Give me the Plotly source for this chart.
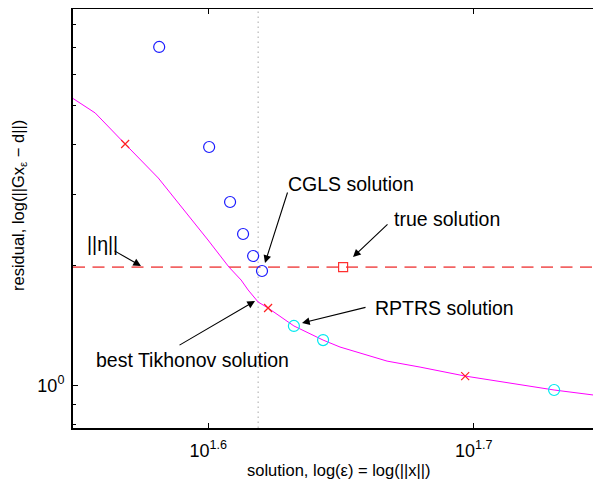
import plotly.graph_objects as go

# ---------------- data ----------------
# Tikhonov L-curve (solution norm, residual norm)
tik_x = [35.38, 36.09, 37.04, 38.12, 39.80, 40.53, 40.96, 41.21, 41.57, 41.93,
         42.88, 43.98, 44.63, 46.49, 47.84, 49.75, 53.74, 56.30]
tik_y = [5.228, 4.797, 4.013, 3.301, 2.311, 1.978, 1.836, 1.734, 1.618, 1.563,
         1.410, 1.300, 1.249, 1.152, 1.113, 1.057, 0.9757, 0.938]
# Tikhonov samples marked with red x
tikx_x = [37.04, 41.93, 49.75]
tikx_y = [4.013, 1.563, 1.057]
# CGLS iterates
cgls_x = [38.15, 39.84, 40.57, 41.03, 41.39, 41.71]
cgls_y = [7.012, 3.945, 2.875, 2.392, 2.108, 1.934]
# RPTRS solutions
rptrs_x = [42.88, 43.98, 53.74]
rptrs_y = [1.410, 1.300, 0.9757]
# true solution
true_x = [44.75]
true_y = [1.978]
# noise level ||eta|| and best Tikhonov epsilon
eta_norm = 1.978
best_eps = 41.57

x_tick_vals = [10 ** 1.6, 10 ** 1.7]
x_tick_text = ["10<sup>1.6</sup>", "10<sup>1.7</sup>"]
y_tick_vals = [1]
y_tick_text = ["10<sup>0</sup>"]
y_minor_vals = [0.8, 0.9, 2, 3, 4, 5, 6, 7, 8]

x_range_log = [1.54902, 1.74797]
y_range_log = [-0.1056, 0.9406]

FONT = "Liberation Sans, Arial, Helvetica, sans-serif"

fig = go.Figure()

# noise level line
fig.add_trace(go.Scatter(x=[10 ** x_range_log[0], 10 ** x_range_log[1]], y=[eta_norm, eta_norm],
                         mode="lines", line=dict(color="#f26464", width=1.8, dash="12px,7.5px"),
                         hoverinfo="skip", showlegend=False))
# best Tikhonov dotted vertical line
fig.add_trace(go.Scatter(x=[best_eps, best_eps], y=[10 ** y_range_log[0], 10 ** y_range_log[1]],
                         mode="lines", line=dict(color="#aaaaaa", width=1, dash="1.5px,3.5px"),
                         hoverinfo="skip", showlegend=False))
# L-curve
fig.add_trace(go.Scatter(x=tik_x, y=tik_y, mode="lines",
                         line=dict(color="#ff00ff", width=1), showlegend=False))
fig.add_trace(go.Scatter(x=tikx_x, y=tikx_y, mode="markers",
                         marker=dict(symbol="x-thin", size=8, line=dict(color="#ff2020", width=1.2)),
                         showlegend=False))
fig.add_trace(go.Scatter(x=cgls_x, y=cgls_y, mode="markers",
                         marker=dict(symbol="circle-open", size=11, color="#1a1aff", line=dict(width=1.2)),
                         showlegend=False))
fig.add_trace(go.Scatter(x=rptrs_x, y=rptrs_y, mode="markers",
                         marker=dict(symbol="circle-open", size=11, color="#00e8f0", line=dict(width=1.2)),
                         showlegend=False))
fig.add_trace(go.Scatter(x=true_x, y=true_y, mode="markers",
                         marker=dict(symbol="square-open", size=9, color="#ff3030", line=dict(width=1.2)),
                         showlegend=False))

# page has an 8px body margin; the figure is sized so it fits the window
OFF = 8
W, H = 593, 475
L, R, T, B = 65, 0, 1, 55
pw, ph = W - L - R, H - T - B


def px(xp):
    return (xp - OFF - L) / pw


def py(yp):
    return (H - B - (yp - OFF)) / ph


annots = []
# text labels
labels = [("CGLS solution", 351, 184), ("true solution", 446.5, 219), ("||η||", 102, 244),
          ("RPTRS solution", 444.5, 308), ("best Tikhonov solution", 192.5, 360)]
for t, xp, yp in labels:
    annots.append(dict(text=t, x=px(xp), y=py(yp), xref="paper", yref="paper",
                       xanchor="center", yanchor="middle", showarrow=False,
                       font=dict(family=FONT, size=19.5, color="black")))
# arrows: head (log data coords), tail offset in pixels
arrows = [(1.62136, 0.3064, 23, -72), (1.65452, 0.3213, 36, -34), (1.57464, 0.2989, -28, -16),
          (1.63531, 0.1566, 65, -16), (1.61760, 0.2115, -77, 45)]
for hx, hy, ax, ay in arrows:
    annots.append(dict(text="", x=hx, y=hy, xref="x", yref="y", ax=ax, ay=ay,
                       axref="pixel", ayref="pixel", showarrow=True, arrowhead=2,
                       arrowsize=1.4, arrowwidth=1.1, arrowcolor="black", standoff=0))
# axis titles
annots.append(dict(text="solution, log(ε) = log(||x||)", x=px(339), y=py(470), xref="paper", yref="paper",
                   xanchor="center", yanchor="middle", showarrow=False,
                   font=dict(family=FONT, size=16.5, color="black")))
annots.append(dict(text="residual, log(||Gx<sub>ε</sub> − d||)", x=px(19), y=py(206), xref="paper", yref="paper",
                   xanchor="center", yanchor="middle", showarrow=False, textangle=-90,
                   font=dict(family=FONT, size=16.5, color="black")))

fig.update_layout(
    width=W, height=H,
    margin=dict(l=L, r=R, t=T, b=B, pad=0),
    paper_bgcolor="white", plot_bgcolor="white",
    font=dict(family=FONT, size=18, color="black"),
    annotations=annots,
    xaxis=dict(type="log", range=x_range_log, showgrid=False, zeroline=False,
               tickmode="array", tickvals=x_tick_vals, ticktext=x_tick_text,
               ticks="inside", ticklen=5, tickwidth=1, tickcolor="black",
               showline=True, linecolor="black", linewidth=2, mirror="ticks",
               ticklabelstandoff=5,
               tickfont=dict(family=FONT, size=18)),
    yaxis=dict(type="log", range=y_range_log, showgrid=False, zeroline=False,
               tickmode="array", tickvals=y_tick_vals, ticktext=y_tick_text,
               ticks="inside", ticklen=5, tickwidth=1, tickcolor="black",
               showline=True, linecolor="black", linewidth=2, mirror=False,
               ticklabelstandoff=3,
               tickfont=dict(family=FONT, size=18),
               minor=dict(tickmode="array", tickvals=y_minor_vals, ticks="inside",
                          ticklen=2.5, tickwidth=1, tickcolor="black", showgrid=False)),
)

fig.write_html("out.html")
